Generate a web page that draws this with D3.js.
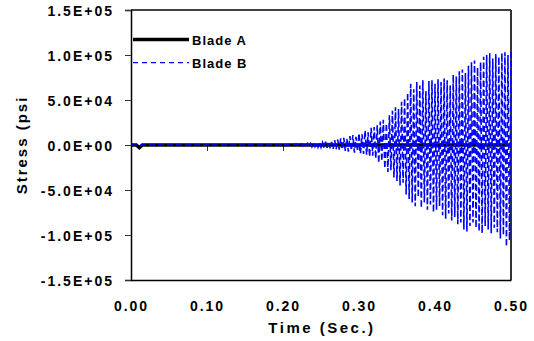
<!DOCTYPE html>
<html>
<head>
<meta charset="utf-8">
<script src="https://d3js.org/d3.v7.min.js"></script>
<style>
  html, body { margin: 0; padding: 0; background: #fff; }
  svg { display: block; }
  text { font-family: "Liberation Sans", Arial, sans-serif; font-weight: bold; fill: #000; }
</style>
</head>
<body>
<div id="chart"></div>
<script>
// axis ticks
const xTicks = [0, 0.1, 0.2, 0.3, 0.4, 0.5];
const yTicks = [150000, 100000, 50000, 0, -50000, -100000, -150000];

// Blade A: sits on zero, small dip right at the start
const bladeATime = [0, 0.007, 0.011, 0.015, 0.5];
const bladeAStress = [0, 0, -3000, 0, 0];

// Blade B: flat until ~0.22 s, then a growing oscillation (one peak per sample)
const bladeBLeadTime = [0, 0.1, 0.2];
const bladeBLeadStress = [0, 0, 0];
const bladeBStart = 0.22;
const bladeBStep = 0.002;
const bladeBPeaks = [
  800, -900, 1200, -1000, 1500, -1300, 1800, -1500, 1600, -2000,
  2200, -1800, 2500, -2400, 3000, -2600, 2800, -3200, 3800, -3000,
  4000, -3600, 3500, -4200, 5500, -4500, 6000, -5200, 7500, -5000,
  8000, -6500, 7000, -7500, 10000, -6000, 11000, -8500, 9000, -7000,
  13000, -9000, 12000, -10000, 16000, -11000, 14000, -13000, 19000, -12000,
  20000, -15000, 22000, -20000, 26000, -18000, 28000, -26000, 24000, -30000,
  33000, -28000, 38000, -36000, 42000, -40000, 40000, -45000, 48000, -42000,
  52000, -55000, 58000, -60000, 68000, -64000, 62000, -68000, 70000, -58000,
  66000, -70000, 72000, -64000, 60000, -72000, 71000, -66000, 72000, -75000,
  68000, -72000, 73000, -68000, 70000, -78000, 74000, -82000, 72000, -76000,
  66000, -84000, 78000, -80000, 76000, -88000, 82000, -86000, 84000, -94000,
  80000, -96000, 88000, -90000, 92000, -86000, 94000, -92000, 86000, -96000,
  92000, -98000, 98000, -90000, 100000, -94000, 102000, -98000, 96000, -92000,
  101000, -97000, 98000, -104000, 102000, -100000, 103000, -113000, 100000, -106000,
  104000
];

const width = 534;
const height = 341;
const plotLeft = 131;
const plotRight = 511;
const plotTop = 10;
const plotBottom = 280;

const svg = d3.select('#chart')
  .append('svg')
  .attr('width', width)
  .attr('height', height);

const x = d3.scaleLinear().domain([0, 0.5]).range([plotLeft, plotRight]);
const y = d3.scaleLinear().domain([-150000, 150000]).range([plotBottom, plotTop]);

function fmtE(v) {
  if (v === 0) return '0.0E+00';
  const e = Math.floor(Math.log10(Math.abs(v)));
  const m = (v / Math.pow(10, e)).toFixed(1);
  return m + 'E+' + String(e).padStart(2, '0');
}

// frame (top + right)
svg.append('path')
  .attr('d', `M${plotLeft},${plotTop}H${plotRight}`)
  .attr('stroke', '#000').attr('stroke-width', 1.5).attr('fill', 'none');
svg.append('path')
  .attr('d', `M${plotRight},${plotTop}V${plotBottom}`)
  .attr('stroke', '#333').attr('stroke-width', 2).attr('fill', 'none');

// bottom axis: labels only, domain is the bottom frame line
const xAxisBottom = svg.append('g')
  .attr('transform', `translate(0,${plotBottom})`)
  .call(d3.axisBottom(x).tickValues(xTicks).tickSize(0).tickPadding(21).tickFormat(d3.format('.2f')));
xAxisBottom.select('.domain').attr('stroke', '#000').attr('stroke-width', 1.5);
xAxisBottom.selectAll('text')
  .attr('font-size', 14).attr('letter-spacing', 2)
  .attr('font-family', '"Liberation Sans", Arial, sans-serif').attr('font-weight', 'bold');

// zero axis with tick marks below it
const xAxisZero = svg.append('g')
  .attr('transform', `translate(0,${y(0)})`)
  .call(d3.axisBottom(x).tickValues(xTicks).tickSize(6).tickFormat(''));
xAxisZero.select('.domain').attr('stroke', '#777').attr('stroke-width', 1);
xAxisZero.selectAll('line').attr('stroke', '#333');

// y axis
const yAxis = svg.append('g')
  .attr('transform', `translate(${plotLeft},0)`)
  .call(d3.axisLeft(y).tickValues(yTicks).tickSize(6).tickPadding(11).tickFormat(fmtE));
yAxis.select('.domain').attr('stroke', '#000').attr('stroke-width', 1.5);
yAxis.selectAll('line').attr('stroke', '#333');
yAxis.selectAll('text')
  .attr('font-size', 14).attr('letter-spacing', 2).attr('dy', '0.4em')
  .attr('font-family', '"Liberation Sans", Arial, sans-serif').attr('font-weight', 'bold');

// series
const line = d3.line().x(d => x(d[0])).y(d => y(d[1]));

const bladeA = bladeATime.map((t, i) => [t, bladeAStress[i]]);
svg.append('path')
  .datum(bladeA)
  .attr('d', line)
  .attr('fill', 'none')
  .attr('stroke', '#000')
  .attr('stroke-width', 3.5);

const bladeB = bladeBLeadTime.map((t, i) => [t, bladeBLeadStress[i]])
  .concat(bladeBPeaks.map((v, i) => [bladeBStart + i * bladeBStep, v]));
svg.append('path')
  .datum(bladeB)
  .attr('d', line)
  .attr('fill', 'none')
  .attr('stroke', '#0000ff')
  .attr('stroke-width', 1.6)
  .attr('stroke-dasharray', '6,3');

// legend
svg.append('path')
  .attr('d', 'M133,39.5H189')
  .attr('stroke', '#000').attr('stroke-width', 3.5);
svg.append('path')
  .attr('d', 'M133,62.7H189')
  .attr('stroke', '#0000ff').attr('stroke-width', 1.2).attr('stroke-dasharray', '5,4');
svg.append('text').attr('x', 192).attr('y', 45)
  .attr('font-size', 13).attr('letter-spacing', 1).text('Blade A');
svg.append('text').attr('x', 192).attr('y', 68)
  .attr('font-size', 13).attr('letter-spacing', 1).text('Blade B');

// axis titles
svg.append('text')
  .attr('x', (plotLeft + plotRight) / 2 + 1).attr('y', 333)
  .attr('text-anchor', 'middle')
  .attr('font-size', 15).attr('letter-spacing', 2.5)
  .text('Time (Sec.)');
svg.append('text')
  .attr('transform', 'translate(27,145) rotate(-90)')
  .attr('text-anchor', 'middle')
  .attr('font-size', 15).attr('letter-spacing', 2)
  .text('Stress (psi');
</script>
</body>
</html>
